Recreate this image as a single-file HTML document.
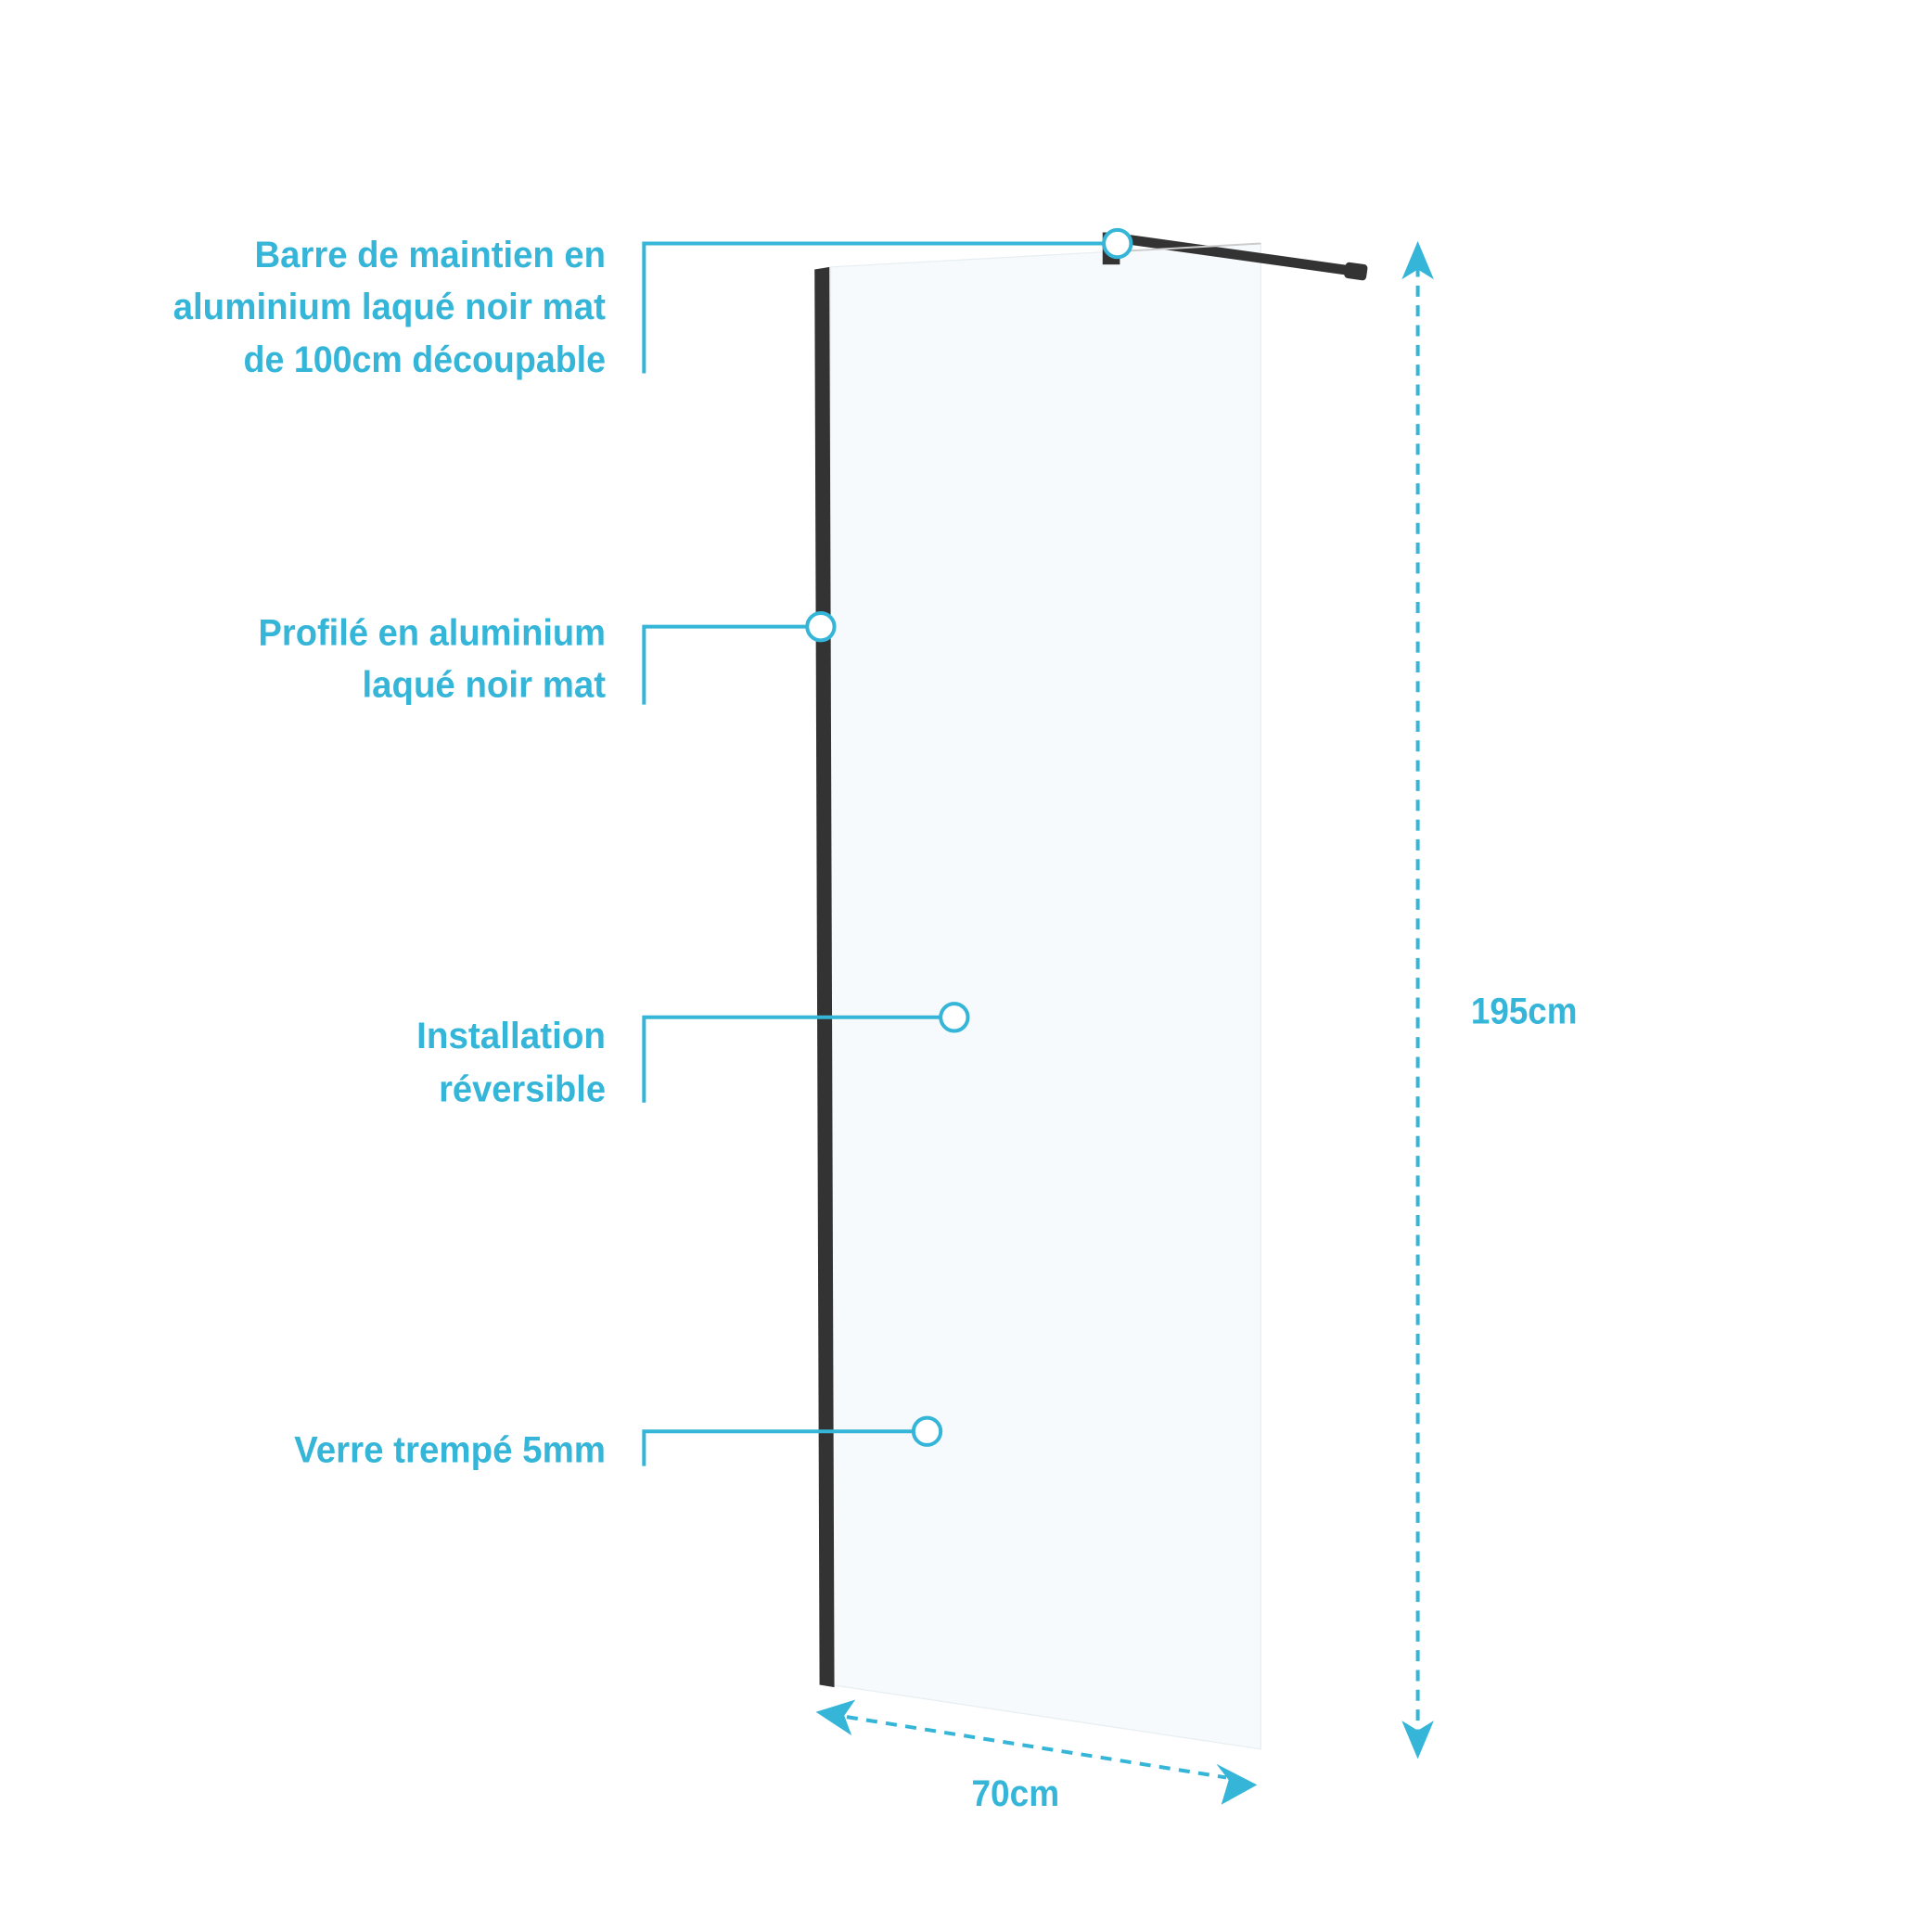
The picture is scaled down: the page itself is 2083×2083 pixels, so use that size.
<!DOCTYPE html>
<html><head><meta charset="utf-8"><style>
html,body{margin:0;padding:0;background:#fff;}
svg{display:block;}
text{font-family:"Liberation Sans",sans-serif;fill:#35b5d8;font-size:30px;font-weight:bold;}
</style></head><body>
<svg width="2083" height="2083" viewBox="0 0 1563 1563" xmlns="http://www.w3.org/2000/svg">
<!-- glass -->
<polygon points="672,216 1020,197 1020,1415 672,1363" fill="#f6fafd" stroke="#e8eff3" stroke-width="1"/>
<!-- profile -->
<polygon points="659,218 671,216 675,1365 663,1363" fill="#333"/>
<!-- bar -->
<line x1="900" y1="192" x2="1100" y2="220" stroke="#333" stroke-width="8" stroke-linecap="round"/>
<rect x="1088" y="213" width="18" height="13" rx="3" fill="#333" transform="rotate(8 1097 219)"/>
<rect x="892" y="188" width="14" height="26" fill="#333"/>
<line x1="912" y1="203" x2="1020" y2="197" stroke="#ccc" stroke-width="1.5"/>
<g stroke="#35b5d8" stroke-width="3" fill="none">
<polyline points="521,302 521,197 893,197"/>
<polyline points="521,570 521,507 653,507"/>
<polyline points="521,892 521,823 761,823"/>
<polyline points="521,1186 521,1158 739,1158"/>
</g>
<g stroke="#35b5d8" stroke-width="3" fill="#fff">
<circle cx="904" cy="197" r="11"/>
<circle cx="664" cy="507" r="11"/>
<circle cx="772" cy="823" r="11"/>
<circle cx="750" cy="1158" r="11"/>
</g>
<g stroke="#35b5d8" stroke-width="3" stroke-dasharray="9,7">
<line x1="1147" y1="215" x2="1147" y2="1400"/>
<line x1="685" y1="1389" x2="992" y2="1438"/>
</g>
<g fill="#35b5d8">
<polygon points="1147,195 1160,226 1147,218 1134,226"/>
<polygon points="1147,1423 1160,1392 1147,1400 1134,1392"/>
<polygon points="660,1385 692,1375 683,1388 689,1404"/>
<polygon points="1017,1444 988,1460 994,1440 984,1427"/>
</g>
<g text-anchor="end">
<text x="490" y="216" textLength="284" lengthAdjust="spacingAndGlyphs">Barre de maintien en</text>
<text x="490" y="258" textLength="350" lengthAdjust="spacingAndGlyphs">aluminium laqué noir mat</text>
<text x="490" y="301" textLength="293" lengthAdjust="spacingAndGlyphs">de 100cm découpable</text>
<text x="490" y="522" textLength="281" lengthAdjust="spacingAndGlyphs">Profilé en aluminium</text>
<text x="490" y="564" textLength="197" lengthAdjust="spacingAndGlyphs">laqué noir mat</text>
<text x="490" y="848" textLength="153" lengthAdjust="spacingAndGlyphs">Installation</text>
<text x="490" y="891" textLength="135" lengthAdjust="spacingAndGlyphs">réversible</text>
<text x="490" y="1183" textLength="252" lengthAdjust="spacingAndGlyphs">Verre trempé 5mm</text>
</g>
<text x="1190" y="828" textLength="86" lengthAdjust="spacingAndGlyphs">195cm</text>
<text x="786" y="1461" textLength="71" lengthAdjust="spacingAndGlyphs">70cm</text>
</svg>
</body></html>
